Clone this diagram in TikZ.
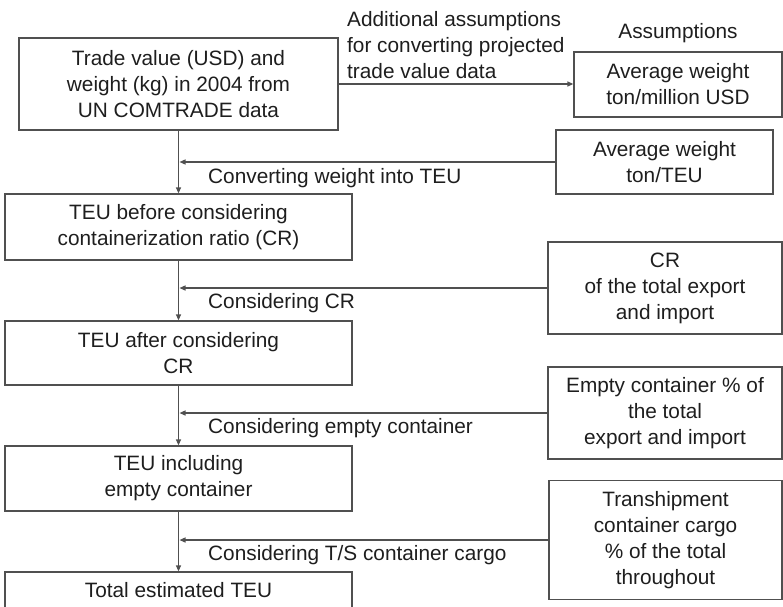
\documentclass[tikz,border=0pt]{standalone}
\usepackage{fontspec}
\setmainfont{Liberation Sans}
\usetikzlibrary{arrows.meta}
\definecolor{ln}{HTML}{505050}
\definecolor{tx}{HTML}{1E1E1E}
\begin{document}
\begin{tikzpicture}[x=1pt,y=-1pt,
  box/.style={draw=ln, line width=1.3pt, text=tx, align=center, inner sep=0pt,
    font=\fontsize{20.8}{26}\selectfont},
  lbl/.style={text=tx, inner sep=0pt, font=\fontsize{20.8}{26}\selectfont},
  conn/.style={draw=ln, line width=1.3pt, -{Triangle[length=6pt,width=5pt]}}]
\useasboundingbox (0,0) rectangle (783,606);
\clip (0,0) rectangle (783,606);
% main column
\node[box, minimum width=319pt, minimum height=92pt] (b1) at (178.5,84)
  {Trade value (USD) and\\weight (kg) in 2004 from\\UN COMTRADE data};
\node[box, minimum width=347pt, minimum height=66pt] (b2) at (178.5,227)
  {TEU before considering\\containerization ratio (CR)};
\node[box, minimum width=347pt, minimum height=64pt] (b3) at (178.5,353)
  {TEU after considering\\CR};
\node[box, minimum width=347pt, minimum height=65pt] (b4) at (178.5,478.5)
  {TEU including\\empty container};
\node[box, minimum width=347pt, minimum height=36pt] (b5) at (178.5,590)
  {Total estimated TEU};
% right column
\node[lbl] (tA) at (678,33) {Assumptions};
\node[box, minimum width=208pt, minimum height=65pt] (a0) at (678,84.5)
  {Average weight\\ton/million USD};
\node[box, minimum width=217pt, minimum height=64pt] (a1) at (664.5,162)
  {Average weight\\ton/TEU};
\node[box, minimum width=234pt, minimum height=92pt] (a2) at (665,288)
  {CR\\of the total export\\and import};
\node[box, minimum width=234pt, minimum height=92pt] (a3) at (665,413)
  {Empty container \% of\\the total\\export and import};
\node[box, minimum width=233pt, minimum height=119pt] (a4) at (665.5,540)
  {Transhipment\\container cargo\\\% of the total\\throughout};
% labels
\node[lbl, align=left, anchor=west] (t0) at (347,45)
  {Additional assumptions\\for converting projected\\trade value data};
\node[lbl, anchor=west] (l1) at (208,178) {Converting weight into TEU};
\node[lbl, anchor=west] (l2) at (208,303) {Considering CR};
\node[lbl, anchor=west] (l3) at (208,428) {Considering empty container};
\node[lbl, anchor=west] (l4) at (208,555) {Considering T/S container cargo};
% connectors
\draw[conn] (b1.east) -- (b1.east -| a0.west);
\draw[conn] (b1.south) -- (b2.north);
\draw[conn] (b2.south) -- (b3.north);
\draw[conn] (b3.south) -- (b4.north);
\draw[conn] (b4.south) -- (b5.north);
\coordinate (j1) at (b1.south |- a1.west);
\coordinate (j2) at (b1.south |- a2.west);
\coordinate (j3) at (b1.south |- a3.west);
\coordinate (j4) at (b1.south |- a4.west);
\draw[conn] (a1.west) -- ([xshift=1pt]j1);
\draw[conn] (a2.west) -- ([xshift=1pt]j2);
\draw[conn] (a3.west) -- ([xshift=1pt]j3);
\draw[conn] (a4.west) -- ([xshift=1pt]j4);
\end{tikzpicture}
\end{document}
